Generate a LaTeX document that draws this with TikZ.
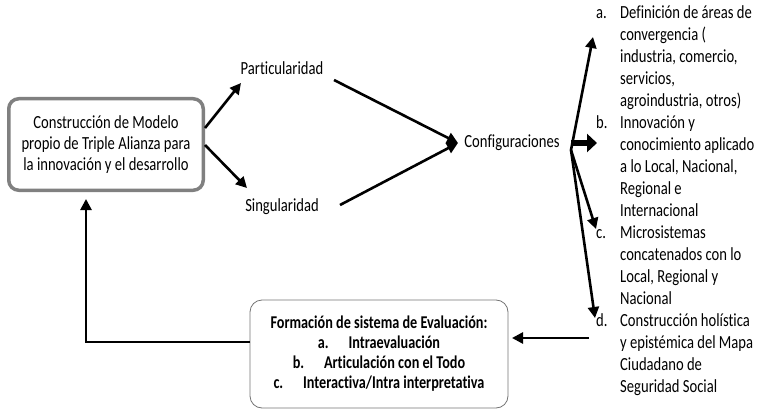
\documentclass[tikz,border=0pt]{standalone}
\usepackage{fontspec}
\setmainfont{Carlito}[FakeStretch=0.79, Ligatures=NoCommon]
\usetikzlibrary{arrows.meta,calc}
\begin{document}
\begin{tikzpicture}[x=1pt,y=-1pt,
  txt/.style={font=\fontsize{18.5}{21}\selectfont, inner sep=0pt, align=center},
  mainbox/.style={draw=black!50, line width=3.5pt, rounded corners=10pt,
    minimum width=194.5pt, minimum height=91.5pt, inner sep=0pt, align=center,
    font=\fontsize{18.5}{21}\selectfont},
  evalbox/.style={draw=black!55, line width=0.8pt, rounded corners=12pt,
    minimum width=258pt, minimum height=108pt, inner sep=0pt, align=center,
    font=\bfseries\fontsize{18}{20}\selectfont},
  listtxt/.style={font=\fontsize{18.5}{22}\selectfont, inner sep=0pt},
  arr/.style={line width=2.6pt, -{Triangle[length=11pt,width=11pt]}},
  bigarr/.style={line width=6pt, -{Triangle[length=10pt,width=18pt]}}
]
\useasboundingbox (0,0) rectangle (760,417);

% nodes
\node[mainbox] (model) at (106,144.5) {Construcción de Modelo\\propio de Triple Alianza para\\la innovación y el desarrollo};
\node[txt] (part) at (282,68) {Particularidad};
\node[txt] (sing) at (282,207) {Singularidad};
\node[txt] (conf) at (512,143) {Configuraciones};
\node[evalbox] (eval) at (379,354) {Formación de sistema de Evaluación:\\
  a.\hspace{1.1em}Intraevaluación\\
  b.\hspace{1.1em}Articulación con el Todo\\
  c.\hspace{1.1em}Interactiva/Intra interpretativa};
\node[listtxt, anchor=north west] (list) at (596,2.6) {\begin{tabular}{@{}p{24pt}@{}l@{}}
a. & Definición de áreas de\\
   & convergencia (\\
   & industria, comercio,\\
   & servicios,\\
   & agroindustria, otros)\\
b. & Innovación y\\
   & conocimiento aplicado\\
   & a lo Local, Nacional,\\
   & Regional e\\
   & Internacional\\
c. & Microsistemas\\
   & concatenados con lo\\
   & Local, Regional y\\
   & Nacional\\
d. & Construcción holística\\
   & y epistémica del Mapa\\
   & Ciudadano de\\
   & Seguridad Social
\end{tabular}};

% coordinates
\coordinate (m1) at (205,128);
\coordinate (m2) at (205,145);
\coordinate (p1) at (241,83);
\coordinate (s1) at (247,188);
\coordinate (pe) at (334,80);
\coordinate (se) at (340,205);
\coordinate (ctip) at (458,143);
\coordinate (f0) at (571,143);
\coordinate (f1) at (571,150);
\coordinate (ta) at (593,37);
\coordinate (tb) at (597,143);
\coordinate (tc) at (596,229);
\coordinate (td) at (595,318);
\coordinate (ds) at (589,338);
\coordinate (et) at (512,338);
\coordinate (ew) at (250,342);
\coordinate (mt) at (86,199);

% connectors
\draw[arr] (m1) -- (p1);
\draw[arr] (m2) -- (s1);
\draw[arr] (pe) -- (ctip);
\draw[arr] (se) -- (ctip);
\draw[arr] (f1) -- (ta);
\draw[bigarr] (f0) -- (tb);
\draw[arr] (f1) -- (tc);
\draw[arr] (f1) -- (td);
\draw[arr] (ds) -- (et);
\draw[arr] (ew) -| (mt);
\end{tikzpicture}
\end{document}
